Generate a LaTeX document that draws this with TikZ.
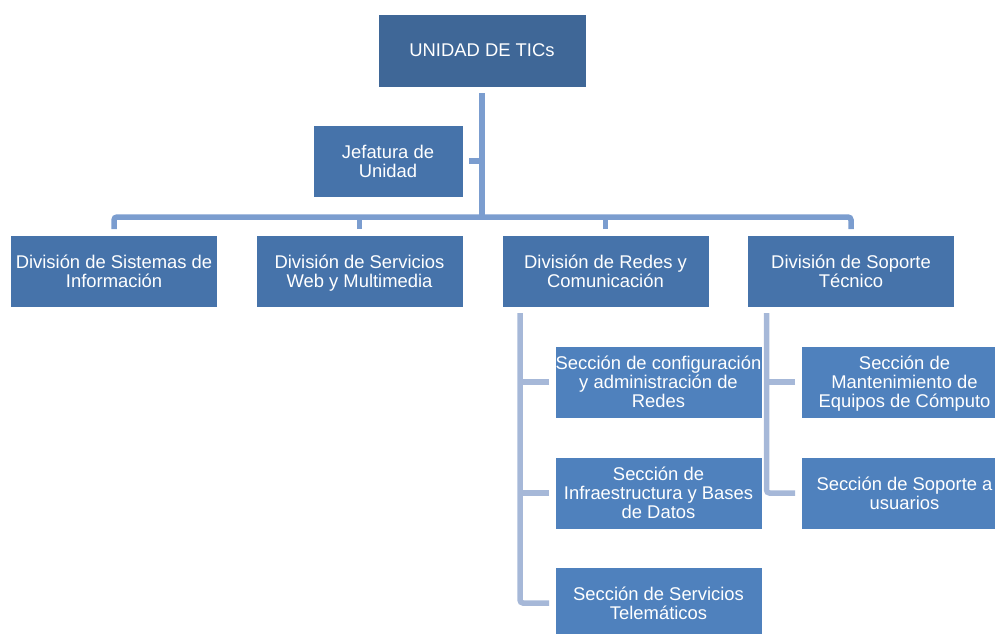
\documentclass[tikz,border=0pt]{standalone}
\usepackage{fontspec}
\setmainfont{Liberation Sans}
\definecolor{tope}{HTML}{3F6797}
\definecolor{division}{HTML}{4673AA}
\definecolor{seccion}{HTML}{4F81BD}
\definecolor{linea}{HTML}{7B9DCF}
\definecolor{sublinea}{HTML}{A6B8D8}
\begin{document}
\begin{tikzpicture}[x=1pt, y=-1pt,
        box/.style={rectangle, draw=white, line width=1pt, minimum width=207pt, minimum height=72pt, inner sep=0pt, outer sep=6pt, text=white, align=center, text depth=0pt, font=\fontsize{18.4}{19}\selectfont},
        link/.style={line width=5.5pt, draw=linea},
        sublink/.style={line width=5.5pt, draw=sublinea}]
        \clip (0,0) rectangle (995,633);
        \node[box, fill=tope, minimum width=208pt, minimum height=73pt] (unidad) at (482,50.5) {UNIDAD DE TICs};
        \node[box, fill=division, minimum width=150pt] (jefatura) at (388,161) {Jefatura de\\Unidad};
        \node[box, fill=division] (sistemas) at (114,271) {División de Sistemas de\\Información};
        \node[box, fill=division] (web) at (359.5,271) {División de Servicios\\Web y Multimedia};
        \node[box, fill=division] (redes) at (605.5,271) {División de Redes y\\Comunicación};
        \node[box, fill=division] (soporte) at (851,271) {División de Soporte\\Técnico};
        \node[box, fill=seccion] (config) at (658.5,382) {Sección de configuración\\y administración de\\Redes};
        \node[box, fill=seccion] (infra) at (658.5,493) {Sección de\\Infraestructura y Bases\\de Datos};
        \node[box, fill=seccion] (telem) at (658.5,603) {Sección de Servicios\\Telemáticos};
        \node[box, fill=seccion] (mant) at (904.5,382) {Sección de\\Mantenimiento de\\Equipos de Cómputo};
        \node[box, fill=seccion] (usuarios) at (904.5,493) {Sección de Soporte a\\usuarios};
        \draw[link] (unidad.south) -- ++(0,124);
        \draw[link] (jefatura.east) -- (jefatura.east -| unidad.south);
        \draw[link, rounded corners=3] (sistemas.north) -- ++(0,-12) -| (soporte.north);
        \draw[link] (web.north) -- ++(0,-12);
        \draw[link] (redes.north) -- ++(0,-12);
        \draw[sublink, rounded corners=3] ([xshift=24pt]redes.south west) |- (telem.west);
        \draw[sublink] (config.west) -- ++(-29,0);
        \draw[sublink] (infra.west) -- ++(-29,0);
        \draw[sublink, rounded corners=3] ([xshift=25pt]soporte.south west) |- (usuarios.west);
        \draw[sublink] (mant.west) -- ++(-29,0);
    \end{tikzpicture}
\end{document}
